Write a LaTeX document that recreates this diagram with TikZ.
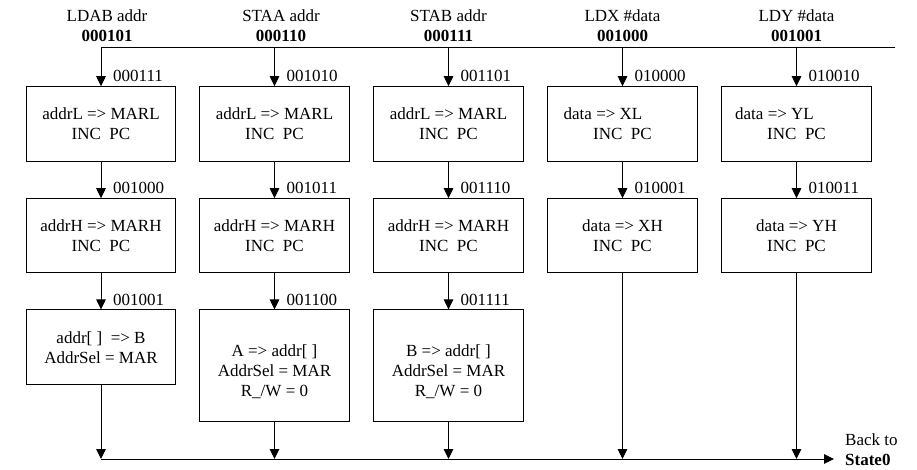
\documentclass[tikz,border=0pt]{standalone}
\usepackage{fontspec}
\setmainfont{Liberation Serif}
\usetikzlibrary{arrows.meta}
\begin{document}
\begin{tikzpicture}[x=1pt,y=-1pt,
  every node/.style={font=\fontsize{17}{20}\selectfont},
  box/.style={draw,line width=1pt,minimum width=149.5pt,inner sep=0pt,align=center},
  txt/.style={inner sep=0pt,align=center},
  lbl/.style={inner sep=0pt,anchor=west},
  arr/.style={line width=1pt,-{Triangle[length=10pt,width=9.5pt]}},
  ln/.style={line width=1pt}]
\useasboundingbox (0,0) rectangle (917,470);
% column x: 101, 274.5, 448.5, 622.5, 796.5
% headings
\node[txt] (h1) at (107,25.5) {LDAB addr\\\textbf{000101}};
\node[txt] (h2) at (281,25.5) {STAA addr\\\textbf{000110}};
\node[txt] (h3) at (448.5,25.5) {STAB addr\\\textbf{000111}};
\node[txt] (h4) at (622.5,25.5) {LDX \#data\\\textbf{001000}};
\node[txt] (h5) at (796.5,25.5) {LDY \#data\\\textbf{001001}};
% junctions
\coordinate (t1) at (101,48);
\coordinate (t2) at (274.5,48);
\coordinate (t3) at (448.5,48);
\coordinate (t4) at (622.5,48);
\coordinate (t5) at (796.5,48);
\coordinate (tEnd) at (895,48);
\coordinate (b1) at (101,459);
\coordinate (b2) at (274.5,459);
\coordinate (b3) at (448.5,459);
\coordinate (b4) at (622.5,459);
\coordinate (b5) at (796.5,459);
\coordinate (bEnd) at (834,459);
% row 1
\node[box,minimum height=74.6pt] (c1r1) at (101,124) {addrL => MARL\\INC~~PC};
\node[box,minimum height=74.6pt] (c2r1) at (274.5,124) {addrL => MARL\\INC~~PC};
\node[box,minimum height=74.6pt] (c3r1) at (448.5,124) {addrL => MARL\\INC~~PC};
\node[box,minimum height=74.6pt] (c4r1) at (622.5,124) {data => XL\hspace*{39pt}\\INC~~PC};
\node[box,minimum height=74.6pt] (c5r1) at (796.5,124) {data => YL\hspace*{44pt}\\INC~~PC};
% row 2
\node[box,minimum height=74pt] (c1r2) at (101,235.7) {addrH => MARH\\INC~~PC};
\node[box,minimum height=74pt] (c2r2) at (274.5,235.7) {addrH => MARH\\INC~~PC};
\node[box,minimum height=74pt] (c3r2) at (448.5,235.7) {addrH => MARH\\INC~~PC};
\node[box,minimum height=74pt] (c4r2) at (622.5,235.7) {data => XH\\INC~~PC};
\node[box,minimum height=74pt] (c5r2) at (796.5,235.7) {data => YH\\INC~~PC};
% row 3
\node[box,minimum height=74.7pt] (c1r3) at (101,347.3) {addr[~]~~=> B\\AddrSel = MAR};
\node[box,minimum height=111.7pt] (c2r3) at (274.5,365.8) {};
\node[box,minimum height=111.7pt] (c3r3) at (448.5,365.8) {};
\node[txt] (c2r3t) at ([yshift=-6pt]c2r3.center) {A => addr[~]\\AddrSel = MAR\\R\_/W = 0};
\node[txt] (c3r3t) at ([yshift=-6pt]c3r3.center) {B => addr[~]\\AddrSel = MAR\\R\_/W = 0};
% state labels
\node[lbl] (l11) at ([xshift=12pt,yshift=10pt]c1r1.north) {000111};
\node[lbl] (l21) at ([xshift=12pt,yshift=10pt]c2r1.north) {001010};
\node[lbl] (l31) at ([xshift=12pt,yshift=10pt]c3r1.north) {001101};
\node[lbl] (l41) at ([xshift=12pt,yshift=10pt]c4r1.north) {010000};
\node[lbl] (l51) at ([xshift=12pt,yshift=10pt]c5r1.north) {010010};
\node[lbl] (l12) at ([xshift=12pt,yshift=10pt]c1r2.north) {001000};
\node[lbl] (l22) at ([xshift=12pt,yshift=10pt]c2r2.north) {001011};
\node[lbl] (l32) at ([xshift=12pt,yshift=10pt]c3r2.north) {001110};
\node[lbl] (l42) at ([xshift=12pt,yshift=10pt]c4r2.north) {010001};
\node[lbl] (l52) at ([xshift=12pt,yshift=10pt]c5r2.north) {010011};
\node[lbl] (l13) at ([xshift=12pt,yshift=10pt]c1r3.north) {001001};
\node[lbl] (l23) at ([xshift=12pt,yshift=10pt]c2r3.north) {001100};
\node[lbl] (l33) at ([xshift=12pt,yshift=10pt]c3r3.north) {001111};
% back label
\node[txt,anchor=west,align=left] (back) at (845,449.5) {Back to\\\textbf{State0}};
% connectors
\draw[ln] (tEnd) -- (t1);
\draw[arr] (t1) -- (c1r1.north);
\draw[arr] (t2) -- (c2r1.north);
\draw[arr] (t3) -- (c3r1.north);
\draw[arr] (t4) -- (c4r1.north);
\draw[arr] (t5) -- (c5r1.north);
\draw[arr] (c1r1.south) -- (c1r2.north);
\draw[arr] (c2r1.south) -- (c2r2.north);
\draw[arr] (c3r1.south) -- (c3r2.north);
\draw[arr] (c4r1.south) -- (c4r2.north);
\draw[arr] (c5r1.south) -- (c5r2.north);
\draw[arr] (c1r2.south) -- (c1r3.north);
\draw[arr] (c2r2.south) -- (c2r3.north);
\draw[arr] (c3r2.south) -- (c3r3.north);
\draw[arr] (c1r3.south) -- (b1);
\draw[arr] (c2r3.south) -- (b2);
\draw[arr] (c3r3.south) -- (b3);
\draw[arr] (c4r2.south) -- (b4);
\draw[arr] (c5r2.south) -- (b5);
\draw[arr] (b1) -- (bEnd);
\end{tikzpicture}
\end{document}
